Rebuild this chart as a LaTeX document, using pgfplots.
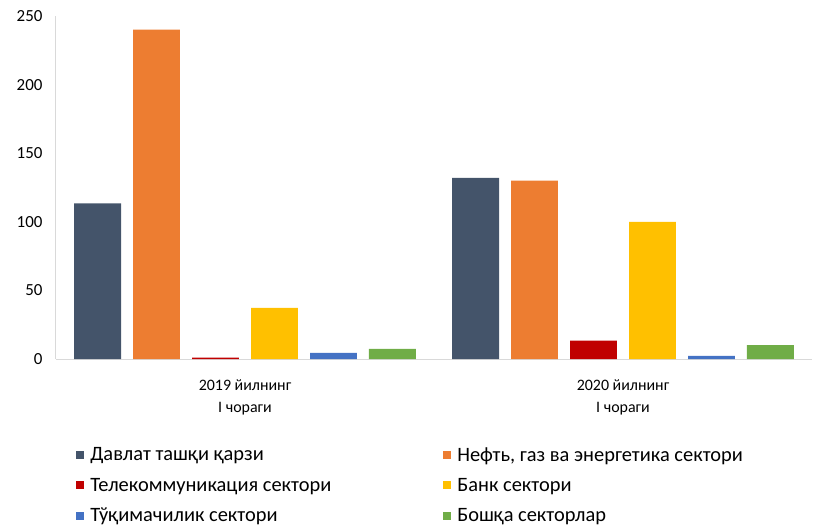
\documentclass[border=0pt]{standalone}
\usepackage{pgfplots}
\pgfplotsset{compat=1.18}
\usepackage{fontspec}
\setmainfont{Carlito}
\definecolor{c1}{HTML}{44546A}
\definecolor{c2}{HTML}{ED7D31}
\definecolor{c3}{HTML}{C00000}
\definecolor{c4}{HTML}{FFC000}
\definecolor{c5}{HTML}{4472C4}
\definecolor{c6}{HTML}{70AD47}
\begin{document}
\begin{tikzpicture}
\begin{axis}[
  name=ax,
  scale only axis,
  width=756bp, height=343bp,
  xmin=-0.5, xmax=1.5, ymin=0, ymax=250,
  ytick={0,50,100,150,200,250},
  xtick={0,1},
  xticklabels={{2019 йилнинг\\[6bp]I чораги},{2020 йилнинг\\[6bp]I чораги}},
  x tick label style={align=center, font=\fontsize{16}{16}\selectfont, yshift=-17bp},
  y tick label style={font=\fontsize{17}{20}\selectfont, xshift=-10bp},
  /pgf/number format/assume math mode=true,
  axis x line*=bottom, axis y line*=left,
  axis line style={draw=black!15, line width=1bp},
  major tick length=0pt,
  bar width=0.124,
  legend columns=2,
  legend cell align=left,
  legend image code/.code={\path[#1,draw=none] (0bp,-4bp) rectangle (8bp,4bp);},
  legend style={draw=none, fill=none, at={(rel axis cs:0.022,-0.245)}, anchor=north west,
    font=\fontsize{20.5}{24}\selectfont, row sep=11.5bp,
    nodes={inner xsep=6.5bp},
    /tikz/every even column/.append style={column sep=105bp},
    /tikz/every odd column/.append style={column sep=0bp}},
]
\addplot[ybar, bar shift=-0.390, fill=c1, draw=none] coordinates {(0,113.5) (1,132)};
\addlegendentry{Давлат ташқи қарзи}
\addplot[ybar, bar shift=-0.234, fill=c2, draw=none] coordinates {(0,240) (1,130)};
\addlegendentry{Нефть, газ ва энергетика сектори}
\addplot[ybar, bar shift=-0.078, fill=c3, draw=none] coordinates {(0,1) (1,13.4)};
\addlegendentry{Телекоммуникация сектори}
\addplot[ybar, bar shift=0.078, fill=c4, draw=none] coordinates {(0,37.2) (1,100)};
\addlegendentry{Банк сектори}
\addplot[ybar, bar shift=0.234, fill=c5, draw=none] coordinates {(0,4.4) (1,2.2)};
\addlegendentry{Тўқимачилик сектори}
\addplot[ybar, bar shift=0.390, fill=c6, draw=none] coordinates {(0,7.3) (1,10.2)};
\addlegendentry{Бошқа секторлар}
\end{axis}
\pgfresetboundingbox
\path ([shift={(-56bp,-168bp)}]ax.south west) rectangle ([shift={(9bp,16bp)}]ax.north east);
\end{tikzpicture}
\end{document}
